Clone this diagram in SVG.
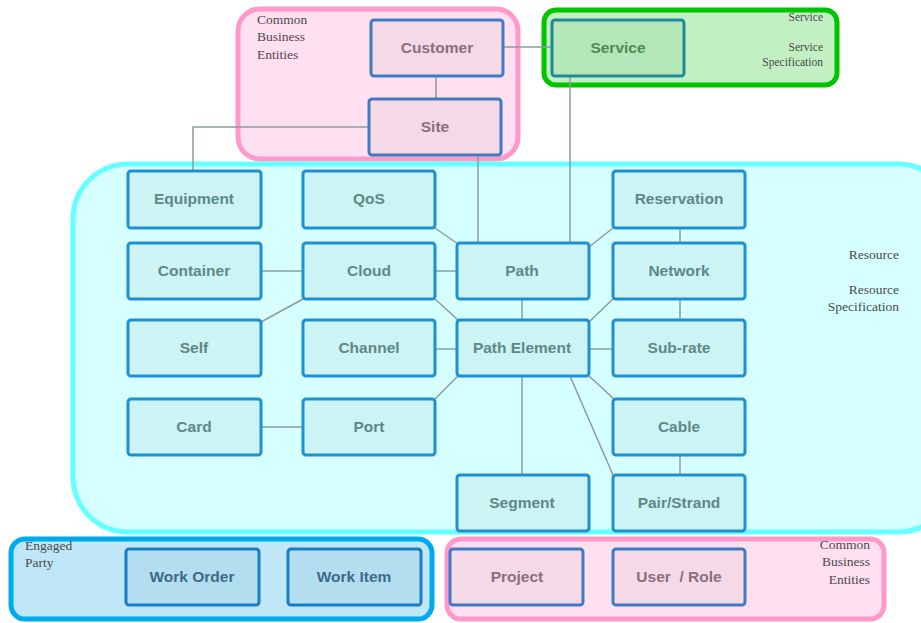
<svg xmlns="http://www.w3.org/2000/svg" width="921" height="623" viewBox="0 0 921 623">
<style>
.grp-pink{fill:#ffe0f0;stroke:#ff99cc;stroke-width:5}
.grp-green{fill:#c2f0c2;stroke:#00c400;stroke-width:5}
.grp-cyan{fill:#d6ffff;stroke:#66ffff;stroke-width:5}
.grp-blue{fill:#bfe7f7;stroke:#00aaee;stroke-width:5}
.n-pink{fill:#f5d9e6;stroke:#3f7bc4;stroke-width:3}
.n-green{fill:#b3e6b8;stroke:#1f8a96;stroke-width:3}
.n-cyan{fill:#ccf4f4;stroke:#1e90d2;stroke-width:3}
.n-blue{fill:#b3def0;stroke:#1a7cc4;stroke-width:3}
.t{font-family:"Liberation Sans",Arial,sans-serif;font-size:15.5px;font-weight:bold;text-anchor:middle}
.tp{fill:#8a6e7e}
.tg{fill:#4e8a5a}
.tc{fill:#5e8888}
.tb{fill:#3e6a88}
.lbl{font-family:"Liberation Serif","Times New Roman",serif;font-size:13.5px;fill:#4a4a4a}
.sm{font-size:11.5px}
.r{text-anchor:end}
#connectors line,#connectors polyline{stroke:#8a9c9c;stroke-width:1.5;fill:none}
</style>

<g id="group-cbe-top">
<rect class="grp-pink" x="238" y="9" width="280" height="150" rx="22"/>
<text class="lbl" x="257" y="24">Common</text>
<text class="lbl" x="257" y="41">Business</text>
<text class="lbl" x="257" y="59">Entities</text>
</g>
<g id="group-service">
<rect class="grp-green" x="544" y="10" width="293" height="75" rx="12"/>
<text class="lbl sm r" x="823" y="21">Service</text>
<text class="lbl sm r" x="823" y="51">Service</text>
<text class="lbl sm r" x="823" y="66">Specification</text>
</g>
<g id="group-resource">
<rect class="grp-cyan" x="73" y="164" width="880" height="368" rx="55"/>
<text class="lbl r" x="899" y="259">Resource</text>
<text class="lbl r" x="899" y="294">Resource</text>
<text class="lbl r" x="899" y="311">Specification</text>
</g>
<g id="group-engaged">
<rect class="grp-blue" x="11" y="539" width="421" height="80" rx="14"/>
<text class="lbl" x="25" y="550">Engaged</text>
<text class="lbl" x="25" y="567">Party</text>
</g>
<g id="group-cbe-bottom">
<rect class="grp-pink" x="447" y="539" width="437" height="80" rx="14"/>
<text class="lbl r" x="870" y="549">Common</text>
<text class="lbl r" x="870" y="566">Business</text>
<text class="lbl r" x="870" y="584">Entities</text>
</g>

<g id="connectors">
<line x1="503" y1="47" x2="552" y2="47"/>
<line x1="436" y1="76" x2="436" y2="98"/>
<polyline points="369,127 193,127 193,171"/>
<line x1="478" y1="155" x2="478" y2="243"/>
<line x1="570" y1="76" x2="570" y2="243"/>
<line x1="435" y1="228" x2="458" y2="244"/>
<line x1="435" y1="271" x2="457" y2="271"/>
<line x1="261" y1="271" x2="303" y2="271"/>
<line x1="303" y1="299" x2="261" y2="322"/>
<line x1="435" y1="299" x2="458" y2="320"/>
<line x1="613" y1="228" x2="589" y2="247"/>
<line x1="680" y1="228" x2="680" y2="243"/>
<line x1="522" y1="299" x2="522" y2="320"/>
<line x1="613" y1="299" x2="589" y2="322"/>
<line x1="680" y1="299" x2="680" y2="320"/>
<line x1="435" y1="349" x2="457" y2="349"/>
<line x1="589" y1="349" x2="613" y2="349"/>
<line x1="435" y1="399" x2="458" y2="376"/>
<line x1="589" y1="376" x2="614" y2="399"/>
<line x1="522" y1="376" x2="522" y2="475"/>
<line x1="570" y1="376" x2="613" y2="475"/>
<line x1="680" y1="455" x2="680" y2="475"/>
<line x1="261" y1="427" x2="303" y2="427"/>
</g>

<g id="customer"><rect class="n-pink" x="371" y="20" width="132" height="56" rx="3"/><text class="t tp" x="437" y="53">Customer</text></g>
<g id="site"><rect class="n-pink" x="369" y="99" width="132" height="56" rx="3"/><text class="t tp" x="435" y="132">Site</text></g>
<g id="service"><rect class="n-green" x="552" y="20" width="132" height="56" rx="3"/><text class="t tg" x="618" y="53">Service</text></g>

<g id="equipment"><rect class="n-cyan" x="128" y="171" width="133" height="57" rx="3"/><text class="t tc" x="194" y="204">Equipment</text></g>
<g id="qos"><rect class="n-cyan" x="303" y="171" width="132" height="57" rx="3"/><text class="t tc" x="369" y="204">QoS</text></g>
<g id="reservation"><rect class="n-cyan" x="613" y="171" width="132" height="57" rx="3"/><text class="t tc" x="679" y="204">Reservation</text></g>
<g id="container"><rect class="n-cyan" x="128" y="243" width="133" height="56" rx="3"/><text class="t tc" x="194" y="276">Container</text></g>
<g id="cloud"><rect class="n-cyan" x="303" y="243" width="132" height="56" rx="3"/><text class="t tc" x="369" y="276">Cloud</text></g>
<g id="path"><rect class="n-cyan" x="457" y="243" width="132" height="56" rx="3"/><text class="t tc" x="522" y="276">Path</text></g>
<g id="network"><rect class="n-cyan" x="613" y="243" width="132" height="56" rx="3"/><text class="t tc" x="679" y="276">Network</text></g>
<g id="self"><rect class="n-cyan" x="128" y="320" width="133" height="56" rx="3"/><text class="t tc" x="194" y="353">Self</text></g>
<g id="channel"><rect class="n-cyan" x="303" y="320" width="132" height="56" rx="3"/><text class="t tc" x="369" y="353">Channel</text></g>
<g id="path-element"><rect class="n-cyan" x="457" y="320" width="132" height="56" rx="3"/><text class="t tc" x="522" y="353">Path Element</text></g>
<g id="sub-rate"><rect class="n-cyan" x="613" y="320" width="132" height="56" rx="3"/><text class="t tc" x="679" y="353">Sub-rate</text></g>
<g id="card"><rect class="n-cyan" x="128" y="399" width="133" height="56" rx="3"/><text class="t tc" x="194" y="432">Card</text></g>
<g id="port"><rect class="n-cyan" x="303" y="399" width="132" height="56" rx="3"/><text class="t tc" x="369" y="432">Port</text></g>
<g id="cable"><rect class="n-cyan" x="613" y="399" width="132" height="56" rx="3"/><text class="t tc" x="679" y="432">Cable</text></g>
<g id="segment"><rect class="n-cyan" x="457" y="475" width="132" height="56" rx="3"/><text class="t tc" x="522" y="508">Segment</text></g>
<g id="pair-strand"><rect class="n-cyan" x="613" y="475" width="132" height="56" rx="3"/><text class="t tc" x="679" y="508">Pair/Strand</text></g>

<g id="work-order"><rect class="n-blue" x="126" y="549" width="133" height="56" rx="3"/><text class="t tb" x="192" y="582">Work Order</text></g>
<g id="work-item"><rect class="n-blue" x="288" y="549" width="133" height="56" rx="3"/><text class="t tb" x="354" y="582">Work Item</text></g>
<g id="project"><rect class="n-pink" x="450" y="549" width="133" height="56" rx="3"/><text class="t tp" x="517" y="582">Project</text></g>
<g id="user-role"><rect class="n-pink" x="613" y="549" width="132" height="56" rx="3"/><text class="t tp" x="679" y="582" style="white-space:pre" xml:space="preserve">User  / Role</text></g>
</svg>
